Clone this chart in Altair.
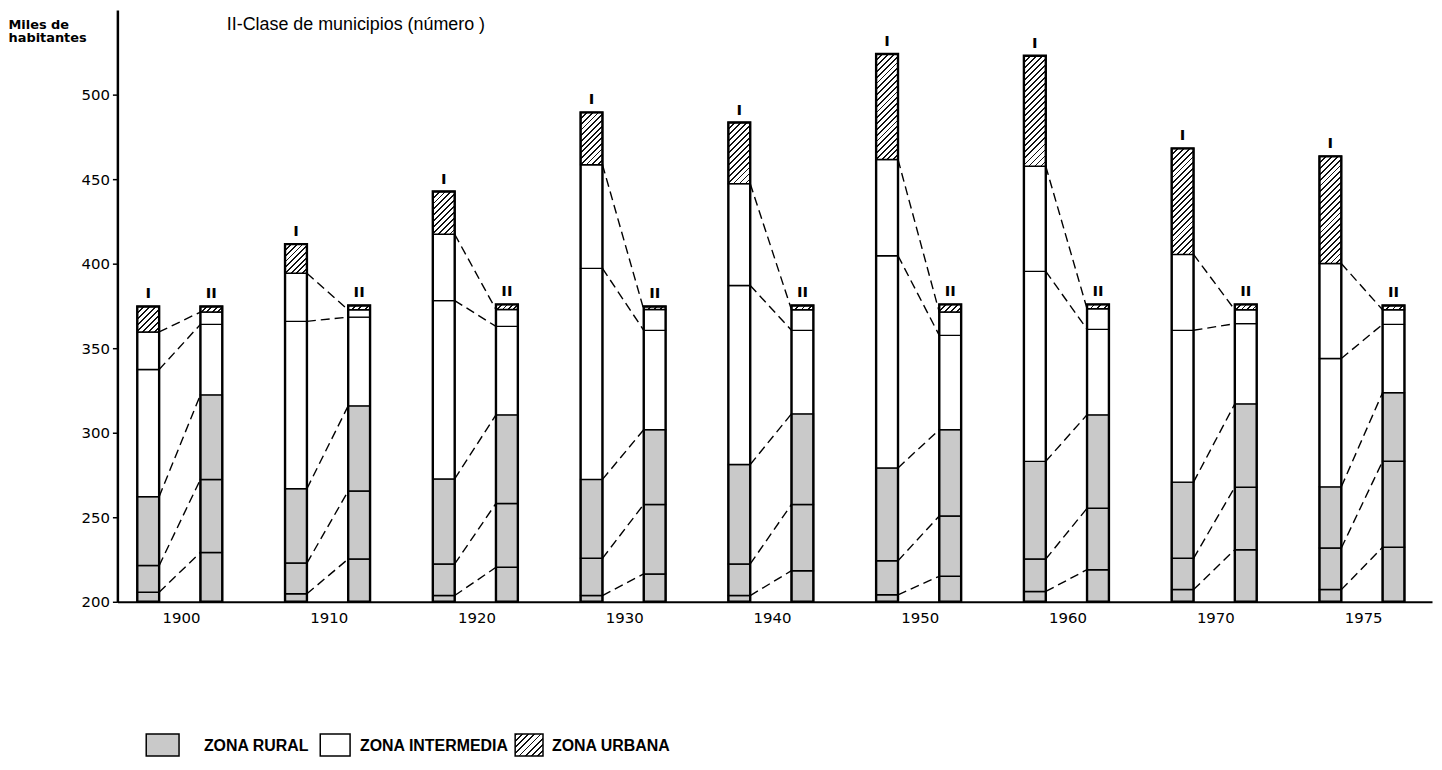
import altair as alt

# ---------------- data ----------------
years = ["1900", "1910", "1920", "1930", "1940", "1950", "1960", "1970", "1975"]
bar_labels = ["I", "II"]
zones = ["ZONA RURAL", "ZONA INTERMEDIA", "ZONA URBANA"]
title_text = "II-Clase de municipios (número )"
y_title = ["Miles de", "habitantes"]

# Bar I : cumulative boundaries (miles de habitantes)
i_rural_a = [205.7, 204.7, 203.7, 203.7, 203.7, 204.1, 206.1, 207.2, 207.2]
i_rural_b = [221.4, 222.9, 222.4, 225.7, 222.4, 224.3, 225.3, 225.7, 231.8]
i_rural_top = [262.2, 266.9, 272.7, 272.4, 281.2, 279.2, 283.1, 270.8, 268.0]
i_inter_a = [337.4, 365.9, 378.2, 397.2, 387.1, 404.7, 395.5, 360.6, 343.9]
i_inter_top = [359.6, 394.3, 417.4, 458.5, 447.3, 461.6, 457.6, 405.5, 400.1]
i_total = [374.7, 411.6, 442.7, 489.5, 483.5, 524.0, 523.0, 468.2, 463.5]

# Bar II : cumulative boundaries
ii_rural_a = [229.2, 225.3, 220.4, 216.5, 218.4, 215.1, 219.0, 230.8, 232.2]
ii_rural_b = [272.4, 265.5, 258.2, 257.6, 257.6, 250.8, 255.3, 267.8, 283.1]
ii_rural_top = [322.4, 315.9, 310.6, 301.8, 311.2, 301.8, 310.6, 317.1, 323.7]
ii_inter_a = [364.1, 368.4, 362.9, 360.6, 360.6, 357.6, 361.2, 364.5, 364.1]
ii_inter_top = [371.4, 372.7, 372.9, 372.9, 372.7, 371.4, 373.3, 372.7, 372.7]
ii_total = [374.7, 375.3, 375.9, 374.7, 375.3, 375.9, 375.9, 375.9, 375.3]

BASE = 200

# ---------------- layout ----------------
W, H = 1322, 595
Y_DOM = [200, 550]
PXU = H / (Y_DOM[1] - Y_DOM[0])
SLOT = 148.6
X0 = 31.0
X_DOM = [-X0 / SLOT, (W - X0) / SLOT]
OFF_II = 63.5 / SLOT
BAR_PX = 22
HALF = BAR_PX / 2 / SLOT
FONT = "DejaVu Sans"
RURAL_FILL = "#c9c9c9"


def hatch(w, h, period=4.2, lw=1.3):
    """Diagonal (///) hatch as a linear gradient in the rect's bounding box."""
    h = max(h, 0.5)
    n = max(1, round((w + h) / (period * 2 ** 0.5)))
    m = max(w, h)
    a, b = w / m, h / m
    k = (a + b) / (a * a + b * b)
    per = (w + h) / (n * 2 ** 0.5)
    frac = min(0.6, lw / per)
    stops = []
    for j in range(n):
        s = j / n
        e = s + frac / n
        stops += [
            {"offset": round(s, 5), "color": "#ffffff"},
            {"offset": round(s, 5), "color": "#111111"},
            {"offset": round(e, 5), "color": "#111111"},
            {"offset": round(e, 5), "color": "#ffffff"},
        ]
    stops.append({"offset": 1, "color": "#ffffff"})
    return {"gradient": "linear", "x1": 0, "y1": 0, "x2": k * a, "y2": k * b, "stops": stops}


segs, outlines, conns, blabels, ylabels = [], [], [], [], []
for i, yr in enumerate(years):
    b1 = [BASE, i_rural_a[i], i_rural_b[i], i_rural_top[i], i_inter_a[i], i_inter_top[i], i_total[i]]
    b2 = [BASE, ii_rural_a[i], ii_rural_b[i], ii_rural_top[i], ii_inter_a[i], ii_inter_top[i], ii_total[i]]
    for bounds, pos, lab in [(b1, i, bar_labels[0]), (b2, i + OFF_II, bar_labels[1])]:
        for k in range(6):
            zone = zones[0] if k < 3 else (zones[1] if k < 5 else zones[2])
            rec = {"x": pos - HALF, "x2": pos + HALF, "y": bounds[k], "y2": bounds[k + 1], "zone": zone}
            if zone == zones[2]:
                rec["grad"] = hatch(BAR_PX, (bounds[k + 1] - bounds[k]) * PXU)
            segs.append(rec)
        outlines.append({"x": pos - HALF, "x2": pos + HALF, "y": BASE, "y2": bounds[6]})
        blabels.append({"x": pos, "y": bounds[6], "t": lab})
    for k in range(1, 6):
        conns.append({"x": i + HALF, "x2": i + OFF_II - HALF, "y": b1[k], "y2": b2[k]})
    ylabels.append({"x": i + 0.225, "t": yr})

xs = alt.Scale(domain=X_DOM, nice=False, zero=False)
ys = alt.Scale(domain=Y_DOM, nice=False, zero=False)

x_axis = alt.Axis(labels=False, ticks=False, grid=False, title=None,
                  domainColor="black", domainWidth=2)
y_axis = alt.Axis(values=list(range(200, 501, 50)), grid=False,
                  tickSize=5, tickWidth=1.5, tickColor="black",
                  domainColor="black", domainWidth=2.5,
                  labelFont=FONT, labelFontSize=15, labelColor="black", labelPadding=3,
                  title=y_title, titleAngle=0, titleAlign="left", titleBaseline="top",
                  titleX=-110, titleY=8, titleFont=FONT, titleFontSize=13,
                  titleFontWeight="bold", titleColor="black", titleLineHeight=14)


def X():
    return alt.X("x:Q", scale=xs, axis=x_axis)


def Y():
    return alt.Y("y:Q", scale=ys, axis=y_axis)


def seg_data(zone):
    return alt.Data(values=[r for r in segs if r["zone"] == zone])


rural = alt.Chart(seg_data(zones[0])).mark_rect(
    fill=RURAL_FILL, stroke="black", strokeWidth=1.5).encode(
    x=X(), x2="x2:Q", y=Y(), y2="y2:Q")
inter = alt.Chart(seg_data(zones[1])).mark_rect(
    fill="white", stroke="black", strokeWidth=1.3).encode(
    x=X(), x2="x2:Q", y=Y(), y2="y2:Q")
urban = alt.Chart(seg_data(zones[2])).mark_rect(stroke="black", strokeWidth=1.5).encode(
    x=X(), x2="x2:Q", y=Y(), y2="y2:Q",
    fill=alt.Fill("grad:N", scale=None))
outline = alt.Chart(alt.Data(values=outlines)).mark_rect(
    fill="white", fillOpacity=0, stroke="black", strokeWidth=2.4).encode(
    x=X(), x2="x2:Q", y=Y(), y2="y2:Q")
connectors = alt.Chart(alt.Data(values=conns)).mark_rule(
    color="black", strokeWidth=1.4, strokeDash=[9, 5]).encode(
    x=X(), x2="x2:Q", y=Y(), y2="y2:Q")
bar_text = alt.Chart(alt.Data(values=blabels)).mark_text(
    font=FONT, fontSize=15, fontWeight="bold", baseline="bottom", dy=-5, color="black").encode(
    x=X(), y=Y(), text="t:N")
year_text = alt.Chart(alt.Data(values=ylabels)).mark_text(
    font=FONT, fontSize=15, baseline="middle", color="black").encode(
    x=X(), y=alt.value(H + 16), text="t:N")
title = alt.Chart(alt.Data(values=[{"t": title_text}])).mark_text(
    font="Liberation Sans", fontSize=18, align="left", baseline="alphabetic", color="black").encode(
    x=alt.value(110), y=alt.value(20), text="t:N")

# legend (drawn by hand so the hatch can be shown)
leg_sw_x = [29, 204, 400]
leg_sw_w = [33, 30, 28]
leg_tx = [87, 244, 437]
leg_y0, leg_y1 = 728, 750
legend_layers = []
for zname, sx, sw, tx in zip(zones, leg_sw_x, leg_sw_w, leg_tx):
    rec = {"t": zname}
    if zname == zones[2]:
        rec["grad"] = hatch(sw, leg_y1 - leg_y0)
    d = alt.Data(values=[rec])
    enc = dict(x=alt.value(sx), x2=alt.value(sx + sw), y=alt.value(leg_y0), y2=alt.value(leg_y1))
    if zname == zones[0]:
        sw_chart = alt.Chart(d).mark_rect(stroke="black", strokeWidth=1.5, fill=RURAL_FILL).encode(**enc)
    elif zname == zones[1]:
        sw_chart = alt.Chart(d).mark_rect(stroke="black", strokeWidth=1.5, fill="white").encode(**enc)
    else:
        sw_chart = alt.Chart(d).mark_rect(stroke="black", strokeWidth=1.5).encode(
            fill=alt.Fill("grad:N", scale=None), **enc)
    txt = alt.Chart(d).mark_text(font="Liberation Sans", fontSize=16, fontWeight="bold",
                                 align="left", baseline="middle", color="black").encode(
        x=alt.value(tx), y=alt.value((leg_y0 + leg_y1) / 2 + 1), text="t:N")
    legend_layers += [sw_chart, txt]

chart = alt.layer(rural, inter, urban, outline, connectors, bar_text, year_text, title,
                  *legend_layers).properties(
    width=W, height=H,
    autosize=alt.AutoSizeParams(type="none"),
    padding={"left": 110, "top": 0, "right": 2, "bottom": 160},
).configure_view(stroke=None)

chart.save("out.html", embed_options={"renderer": "svg", "actions": False})
